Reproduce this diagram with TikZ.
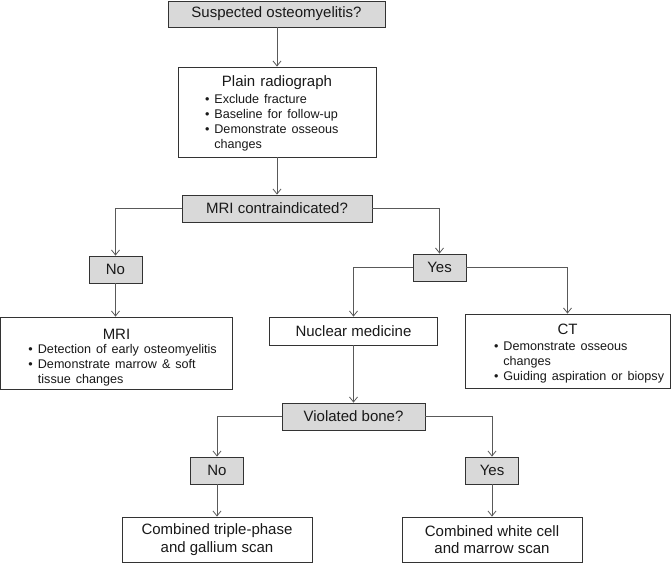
\documentclass[tikz,border=0pt]{standalone}
\usepackage{fontspec}
\setmainfont{Liberation Sans}
\usepackage{array}
\usetikzlibrary{arrows.meta}
\newcommand{\blist}[1]{{\fontsize{12.6}{15}\selectfont\begin{tabular}[t]{@{}l@{\hspace{5pt}}l@{}}#1\end{tabular}}}

\begin{document}
\begin{tikzpicture}[x=1pt,y=-1pt,
	font=\fontsize{15}{17.5}\selectfont,
	box/.style={draw=black!80,line width=0.8pt,fill=white,inner sep=0pt,text=black!90},
	qbox/.style={box,fill=black!15},
	listbox/.style={box,text width=#1,minimum width=#1,align=left},
	arr/.style={draw=black!65,line width=0.8pt,-{Straight Barb[length=5pt,width=8pt]}}]
	\useasboundingbox (0,0) rectangle (671,567);
	% main column
	\node[qbox,minimum width=217,minimum height=26] (sus) at (276.5,14) {Suspected osteomyelitis?};
	\node[listbox=198pt,minimum height=90] (plain) at (277,112) {\noindent\makebox[\hsize]{\rule{0pt}{16pt}Plain radiograph}\\[-1pt]\hspace*{27pt}\blist{• & Exclude fracture\\ • & Baseline for follow-up\\ • & Demonstrate osseous\\ & changes}};
	\node[qbox,minimum width=190,minimum height=27] (mric) at (277,208.5) {MRI contraindicated?};
	\foreach \nm/\px/\py/\txt in {no1/115.5/269.5/No,yes1/439.5/267.5/Yes,no2/217/470.5/No,yes2/492/470.5/Yes}{
		\node[qbox,minimum width=53,minimum height=27] (\nm) at (\px,\py) {\txt};
	}
	% second level
	\node[listbox=232pt,minimum height=72] (mri) at (116.5,353) {\noindent\makebox[\hsize]{\rule{0pt}{21pt}MRI}\\[-3pt]\hspace*{28pt}\blist{• & Detection of early osteomyelitis\\ • & Demonstrate marrow \& soft\\ & tissue changes}};
	\node[box,minimum width=168,minimum height=28] (nuc) at (353.5,331) {Nuclear medicine};
	\node[listbox=205pt,minimum height=74] (ct) at (567.5,351) {\noindent\makebox[\hsize]{\rule{0pt}{17pt}CT}\\[-1pt]\hspace*{29pt}\blist{• & Demonstrate osseous\\ & changes\\ • & Guiding aspiration or biopsy}};
	\node[qbox,minimum width=143,minimum height=27] (vio) at (353.5,416.5) {Violated bone?};
	\node[box,minimum width=190,minimum height=45,align=center] (comb1) at (217,539.5) {Combined triple-phase\\and gallium scan};
	\node[box,minimum width=180,minimum height=45,align=center] (comb2) at (492,539.5) {Combined white cell\\and marrow scan};
	% connectors
	\draw[arr] (sus.south -| plain.north) -- (plain.north);
	\draw[arr] (plain.south) -- (mric.north);
	\draw[arr] (mric.west) -| (no1.north);
	\draw[arr] (mric.east) -| (yes1.north);
	\draw[arr] (no1.south) -- (mri.north -| no1.south);
	\draw[arr] (yes1.west) -| (nuc.north);
	\draw[arr] (yes1.east) -| (ct.north);
	\draw[arr] (nuc.south) -- (vio.north);
	\draw[arr] (vio.west) -| (no2.north);
	\draw[arr] (vio.east) -| (yes2.north);
	\draw[arr] (no2.south) -- (comb1.north);
	\draw[arr] (yes2.south) -- (comb2.north);
\end{tikzpicture}
\end{document}
